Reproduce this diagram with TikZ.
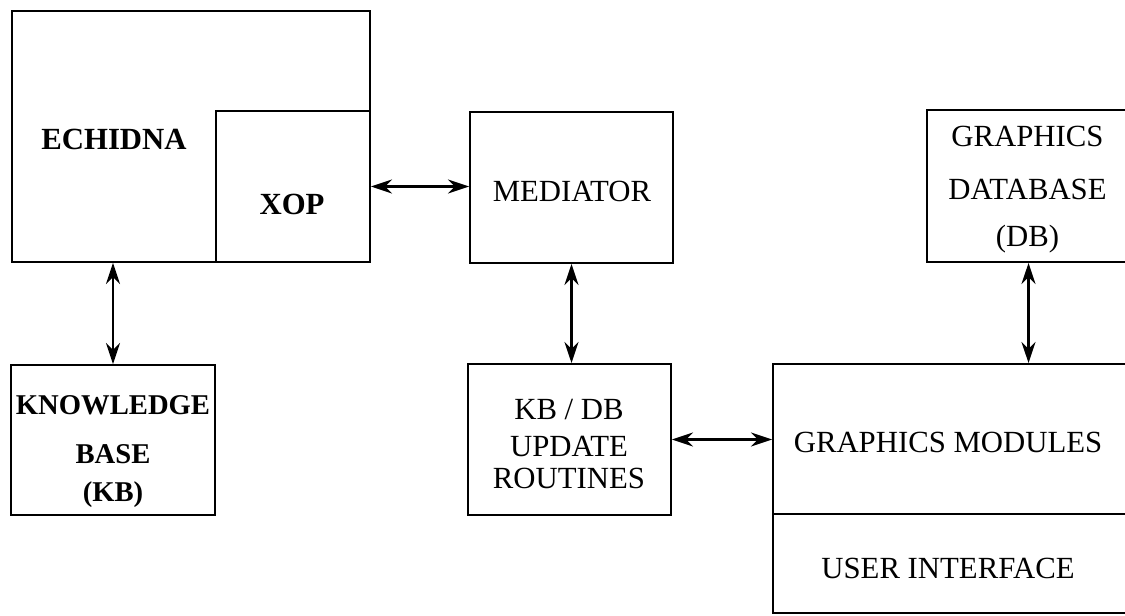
\documentclass[tikz,border=0pt]{standalone}
\usepackage{fontspec}
\setmainfont{Liberation Serif}
\usetikzlibrary{arrows.meta}

\tikzset{
	block/.style={draw, line width=1.1pt, inner sep=0pt, align=center,
		font=\fontsize{17.5}{20}\selectfont},
	txt/.style={align=center, inner sep=0pt, font=\fontsize{17.5}{20}\selectfont},
	link/.style={line width=1.3pt, {Stealth[length=4.2mm,width=2.8mm]}-{Stealth[length=4.2mm,width=2.8mm]}}
}

\begin{document}
\begin{tikzpicture}
	\useasboundingbox (0,0) rectangle (22.5,12.3);
	\clip (0,0) rectangle (22.5,12.3);
	% boxes
	\node[block, minimum width=7.16cm, minimum height=5.02cm] (echidna) at (3.82,9.57) {};
	\node[block, minimum width=3.08cm, minimum height=3.02cm] (xop) at (5.86,8.57) {};
	\node[block, minimum width=4.06cm, minimum height=3.02cm] (mediator) at (11.43,8.55) {};
	\node[block, minimum width=4.06cm, minimum height=3.04cm] (gdb) at (20.57,8.58) {};
	\node[block, minimum width=4.08cm, minimum height=3.0cm] (kb) at (2.26,3.5) {};
	\node[block, minimum width=4.06cm, minimum height=3.02cm] (kbdb) at (11.39,3.51) {};
	\node[block, minimum width=7.14cm, minimum height=3.0cm] (gm) at (19.03,3.52) {};
	\node[block, minimum width=7.14cm, minimum height=1.98cm] (ui) at (19.03,1.03) {};
	% texts
	\node[txt, font=\fontsize{17.5}{20}\selectfont\bfseries] (echidnatext) at (2.28,9.52) {ECHIDNA};
	\node[txt, font=\fontsize{17.5}{20}\selectfont\bfseries] (xoptext) at (5.84,8.22) {XOP};
	\node[txt] (mediatortext) at (11.44,8.47) {MEDIATOR};
	\node[txt] (gdbtext) at (20.55,8.5) {GRAPHICS\\[10pt]DATABASE\\[7pt](DB)};
	\node[txt, font=\fontsize{16.3}{20}\selectfont\bfseries] (kbtext) at (2.26,3.27) {KNOWLEDGE\\[8pt]BASE\\[1.5pt](KB)};
	\node[txt] (kbdbtext) at (11.38,3.42) {KB / DB\\[1pt]UPDATE\\[-2pt]ROUTINES};
	\node[txt] (gmtext) at (18.96,3.46) {GRAPHICS MODULES};
	\node[txt] (uitext) at (18.96,0.94) {USER INTERFACE};
	% connectors
	\draw[link] (echidna.south -| kb.north) -- (kb.north);
	\draw[link] (xop.east) -- (xop.east -| mediator.west);
	\draw[link] (mediator.south) -- (mediator.south |- kbdb.north);
	\draw[link] (kbdb.east) -- (kbdb.east -| gm.west);
	\draw[link] (gdb.south) -- (gdb.south |- gm.north);
\end{tikzpicture}
\end{document}
